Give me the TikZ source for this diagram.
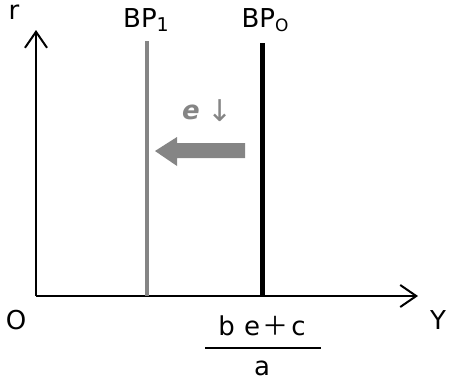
\documentclass[tikz,border=0pt]{standalone}
\usepackage{fontspec}
\setmainfont{DejaVu Sans}
\newfontfamily\cjkfont{Noto Sans CJK JP}
\newfontfamily\symfont{DejaVu Sans}
\usetikzlibrary{arrows.meta}
\definecolor{mygray}{HTML}{858585}
\begin{document}
\begin{tikzpicture}[x=1pt,y=-1pt,
  axis/.style={line width=2pt,-{Straight Barb[length=16pt,width=22pt,line width=2pt]}},
  lbl/.style={font=\fontsize{26}{28}\selectfont,inner sep=0pt},
  bpline/.style={line width=#1}]
\useasboundingbox (0,0) rectangle (449,384);
\coordinate (O) at (36,296);
\coordinate (Ytip) at (418,296);
\coordinate (Rtip) at (36,30);
\draw[axis] (O) -- (Rtip);
\draw[axis] (O) -- (Ytip);
\coordinate (bp1top) at (147,41);
\coordinate (bp1bot) at (147,296);
\coordinate (bp0top) at (262,43);
\coordinate (bp0bot) at (262,296);
\draw[bpline=4.5pt,mygray] (bp1top) -- (bp1bot);
\draw[bpline=5pt,black] (bp0top) -- (bp0bot);
\node[lbl] (r) at (14,12) {r};
\node[lbl] (bp1) at (146,20) {BP\raisebox{-0.3ex}{\fontsize{19}{20}\selectfont 1}};
\node[lbl] (bp0) at (265,20) {BP\raisebox{-0.3ex}{\fontsize{17}{20}\selectfont O}};
\node[lbl] (Olab) at (16,320) {O};
\node[lbl] (Ylab) at (438,320) {Y};
\node[lbl] (num) at (262,326) {b\hspace{0.35em}e\hspace{0.1em}{\cjkfont ＋}\hspace{0.1em}c};
\node[lbl] (den) at (262,368) {a};
\coordinate (fl) at (205,348);
\coordinate (fr) at (321,348);
\draw[line width=1.2pt] (fl) -- (fr);
\node[lbl,text=mygray,font=\fontsize{26}{28}\selectfont\bfseries\itshape] (e) at (191,112) {e};
\node[lbl,text=mygray] (dn) at (220,111) {\symfont\fontsize{30}{32}\selectfont ↓};
\fill[mygray] (245,143) -- (177,143) -- (177,137) -- (155,151) -- (177,166) -- (177,158) -- (245,158) -- cycle;
\end{tikzpicture}
\end{document}
